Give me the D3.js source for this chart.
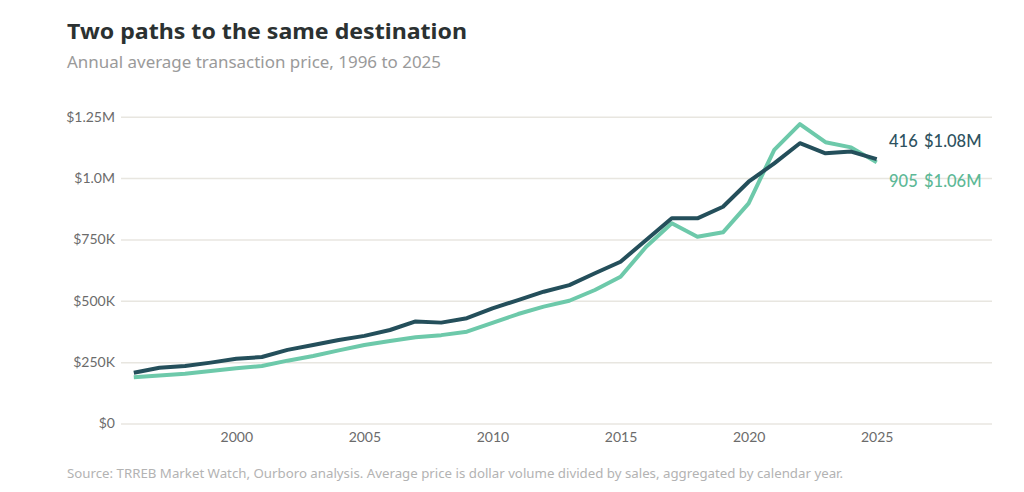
<!DOCTYPE html>
<html>
<head>
<meta charset="utf-8">
<script src="https://cdn.jsdelivr.net/npm/d3@7"></script>
<style>
  body { margin: 0; background: #fff; }
  svg { font-family: "Noto Sans", Lato, sans-serif; }
</style>
</head>
<body>
<svg id="chart"></svg>
<script>
// values, by calendar year
const years = d3.range(1996, 2026);
const price416 = [207000, 227000, 234000, 248000, 264000, 271000, 300000, 320000, 340000, 357000,
  381000, 416000, 411000, 429000, 469000, 503000, 537000, 564000, 612000, 659000,
  748000, 836000, 836000, 883000, 985000, 1060000, 1142000, 1101000, 1108000, 1077000];
const price905 = [188000, 196000, 203000, 214000, 225000, 234000, 256000, 275000, 298000, 320000,
  336000, 351000, 360000, 374000, 410000, 446000, 476000, 500000, 544000, 598000,
  720000, 816000, 761000, 779000, 897000, 1115000, 1220000, 1146000, 1125000, 1064000];
const yTicks = [0, 250000, 500000, 750000, 1000000, 1250000];
const yTickLabels = ["$0", "$250K", "$500K", "$750K", "$1.0M", "$1.25M"];
const xTicks = [2000, 2005, 2010, 2015, 2020, 2025];
const seriesNames = ["416", "905"];
const endLabels = ["$1.08M", "$1.06M"];

const w = 1024, h = 492;
const darkCol = "#244f5b", lightCol = "#6dc9aa";

let svg = d3.select("#chart")
  .attr("width", w)
  .attr("height", h);

// title + subtitle
svg.append("text")
  .attr("x", 67).attr("y", 39)
  .attr("font-size", "21px")
  .attr("font-weight", "bold")
  .attr("fill", "#2b3131")
  .attr("textLength", 400)
  .attr("lengthAdjust", "spacingAndGlyphs")
  .text("Two paths to the same destination");

svg.append("text")
  .attr("x", 67).attr("y", 68)
  .attr("font-size", "15.5px")
  .attr("fill", "#9a9a9a")
  .attr("textLength", 374)
  .attr("lengthAdjust", "spacingAndGlyphs")
  .text("Annual average transaction price, 1996 to 2025");

let x = d3.scaleLinear().domain([1995.5, 2029.5]).range([121, 992]);
let y = d3.scaleLinear().domain([0, 1250000]).range([423.5, 116.7]);

// gridlines + y labels
let yAxis = d3.axisLeft(y)
  .tickValues(yTicks)
  .tickSize(-(992 - 121))
  .tickPadding(6)
  .tickFormat((d, i) => yTickLabels[i]);

let gy = svg.append("g")
  .attr("transform", "translate(121,0)")
  .call(yAxis);
gy.select(".domain").remove();
gy.selectAll(".tick line")
  .attr("stroke", "#e8e6e0")
  .attr("stroke-width", 1.5);
gy.selectAll(".tick text")
  .attr("font-size", "14px")
  .attr("fill", "#6b6b6b")
  .attr("font-family", "Lato, sans-serif");

// x labels
let xAxis = d3.axisBottom(x)
  .tickValues(xTicks)
  .tickSize(0)
  .tickPadding(8)
  .tickFormat(d3.format("d"));

let gx = svg.append("g")
  .attr("transform", "translate(0,424)")
  .call(xAxis);
gx.select(".domain").remove();
gx.selectAll(".tick text")
  .attr("font-size", "14px")
  .attr("fill", "#6b6b6b")
  .attr("font-family", "Lato, sans-serif");

// lines
let line = d3.line()
  .x((d, i) => x(years[i]))
  .y(d => y(d));

svg.append("path")
  .datum(price905)
  .attr("d", line)
  .attr("fill", "none")
  .attr("stroke", lightCol)
  .attr("stroke-width", 4)
  .attr("stroke-linejoin", "round");

svg.append("path")
  .datum(price416)
  .attr("d", line)
  .attr("fill", "none")
  .attr("stroke", darkCol)
  .attr("stroke-width", 4)
  .attr("stroke-linejoin", "round");

// end labels
let labelY = [141.5, 181];
let labelCols = ["#2e5260", "#5cb896"];
seriesNames.forEach((name, i) => {
  let t = svg.append("text")
    .attr("x", 889).attr("y", labelY[i])
    .attr("dy", "0.35em")
    .attr("font-size", "16.5px")
    .attr("font-weight", 500)
    .attr("font-family", "Lato, sans-serif")
    .attr("fill", labelCols[i]);
  t.append("tspan").text(name);
  t.append("tspan").attr("x", 924).text(endLabels[i]);
});

// source
svg.append("text")
  .attr("x", 67).attr("y", 478)
  .attr("font-size", "12px")
  .attr("fill", "#b3b3b3")
  .attr("textLength", 776)
  .attr("lengthAdjust", "spacingAndGlyphs")
  .text("Source: TRREB Market Watch, Ourboro analysis. Average price is dollar volume divided by sales, aggregated by calendar year.");
</script>
</body>
</html>
